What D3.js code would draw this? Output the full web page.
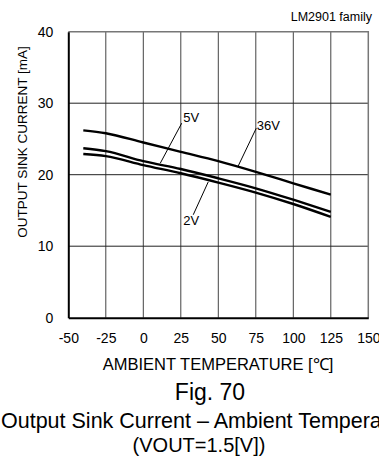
<!DOCTYPE html>
<html>
<head>
<meta charset="utf-8">
<script src="https://cdn.jsdelivr.net/npm/d3@7"></script>
<style>
  body { margin: 0; background: #fff; }
  svg text { font-family: "Liberation Sans", Arial, sans-serif; fill: #000; }
</style>
</head>
<body>
<div id="chart"></div>
<script>
// data
var temps   = [-40, -25, 0, 25, 50, 75, 100, 125];
var sink36V = [26.2, 25.8, 24.5, 23.2, 21.9, 20.4, 18.8, 17.2];
var sink5V  = [23.7, 23.3, 21.9, 20.8, 19.5, 18.1, 16.5, 14.8];
var sink2V  = [22.9, 22.6, 21.35, 20.2, 18.9, 17.5, 15.9, 14.1];
var xTicks  = [-50, -25, 0, 25, 50, 75, 100, 125, 150];
var yTicks  = [0, 10, 20, 30, 40];
// label text, anchor point, leader line [from, to] in data units
var labelNames  = ["5V", "36V", "2V"];
var labelAt     = [[26.7, 27.4], [75.6, 26.25], [26.7, 12.95]];
var leaderLines = [[[25.6, 27.2], [11.3, 21.6]], [[75.3, 26.5], [63, 21.1]], [[43.3, 19.0], [33.3, 14.4]]];

var W = 379, H = 461;
var margin = { top: 31.7, right: 10.7, bottom: 143.3, left: 68.3 };
var width = W - margin.left - margin.right;
var height = H - margin.top - margin.bottom;

var svg = d3.select("#chart").append("svg")
  .attr("width", W)
  .attr("height", H);

var g = svg.append("g")
  .attr("transform", "translate(" + margin.left + "," + margin.top + ")");

var x = d3.scaleLinear().domain([-50, 150]).range([0, width]);
var y = d3.scaleLinear().domain([0, 40]).range([height, 0]);

// grid
g.append("g")
  .selectAll("line")
  .data(xTicks.slice(1, -1))
  .enter().append("line")
  .attr("x1", function (d) { return x(d); })
  .attr("x2", function (d) { return x(d); })
  .attr("y1", 0).attr("y2", height)
  .attr("stroke", "#444").attr("stroke-width", 1);

g.append("g")
  .selectAll("line")
  .data(yTicks.slice(1, -1))
  .enter().append("line")
  .attr("x1", 0).attr("x2", width)
  .attr("y1", function (d) { return y(d); })
  .attr("y2", function (d) { return y(d); })
  .attr("stroke", "#222").attr("stroke-width", 1);

// top / right frame (lighter)
g.append("path")
  .attr("d", "M0," + y(40) + "H" + x(150) + "V" + y(0))
  .attr("fill", "none").attr("stroke", "#777").attr("stroke-width", 1.5);

// axes (plain hyphen for negatives, like the datasheet)
g.append("g")
  .attr("transform", "translate(0," + height + ")")
  .call(d3.axisBottom(x).tickValues(xTicks).tickFormat(function (d) { return String(d); })
    .tickSize(0).tickPadding(15))
  .call(function (a) {
    a.select(".domain").attr("stroke", "#000").attr("stroke-width", 2);
    a.selectAll("text").attr("font-size", 14).attr("fill", "#000");
  });

g.append("g")
  .call(d3.axisLeft(y).tickValues(yTicks).tickSize(0).tickPadding(15))
  .call(function (a) {
    a.select(".domain").attr("stroke", "#000").attr("stroke-width", 2);
    a.selectAll("text").attr("font-size", 14).attr("fill", "#000");
  });

// curves
var line = d3.line()
  .x(function (d) { return x(d[0]); })
  .y(function (d) { return y(d[1]); })
  .curve(d3.curveMonotoneX);

[sink36V, sink5V, sink2V].forEach(function (s) {
  g.append("path")
    .datum(temps.map(function (t, i) { return [t, s[i]]; }))
    .attr("fill", "none")
    .attr("stroke", "#000")
    .attr("stroke-width", 2.4)
    .attr("d", line);
});

// leaders and labels
leaderLines.forEach(function (l, i) {
  g.append("line")
    .attr("x1", x(l[0][0])).attr("y1", y(l[0][1]))
    .attr("x2", x(l[1][0])).attr("y2", y(l[1][1]))
    .attr("stroke", "#000").attr("stroke-width", 1);
  g.append("text")
    .attr("x", x(labelAt[i][0]))
    .attr("y", y(labelAt[i][1]))
    .attr("font-size", 13)
    .text(labelNames[i]);
});

// titles
svg.append("text")
  .attr("x", 372).attr("y", 21)
  .attr("text-anchor", "end")
  .attr("font-size", 12.5)
  .text("LM2901 family");

svg.append("text")
  .attr("transform", "translate(27,142) rotate(-90)")
  .attr("text-anchor", "middle")
  .attr("font-size", 13.5)
  .text("OUTPUT SINK CURRENT [mA]");

svg.append("text")
  .attr("x", 218).attr("y", 370)
  .attr("text-anchor", "middle")
  .attr("font-size", 16.5)
  .text("AMBIENT TEMPERATURE [\u2103]");

svg.append("text")
  .attr("x", 210).attr("y", 400)
  .attr("text-anchor", "middle")
  .attr("font-size", 23)
  .text("Fig. 70");

// the datasheet crop cuts this caption at the right edge
svg.append("text")
  .attr("x", 1).attr("y", 428)
  .attr("font-size", 21.5)
  .text("Output Sink Current \u2013 Ambient Temperature");

svg.append("text")
  .attr("x", 199).attr("y", 452)
  .attr("text-anchor", "middle")
  .attr("font-size", 20)
  .text("(VOUT=1.5[V])");
</script>
</body>
</html>
